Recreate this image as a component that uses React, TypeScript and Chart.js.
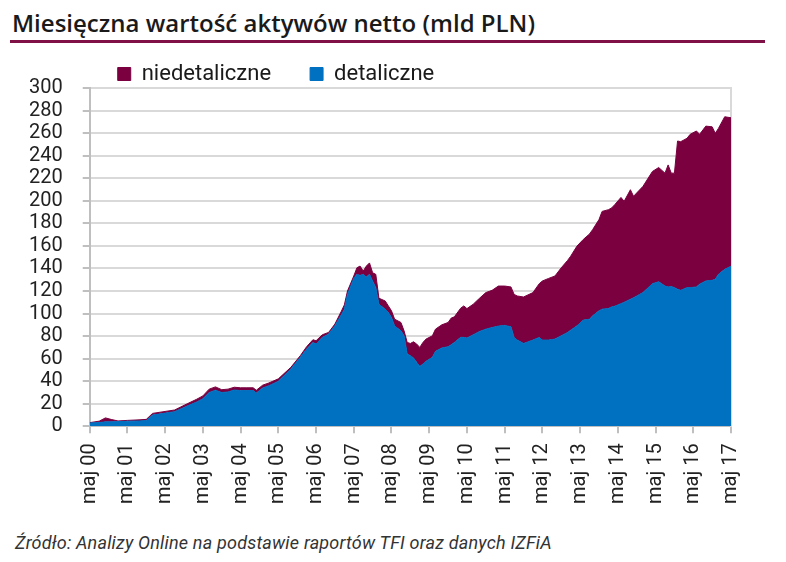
import React, { useEffect, useRef } from "react";
import Chart from "chart.js/auto";

// months counted from May 2000 (0 = maj 00, 204 = maj 17)
const months = [
  0, 3, 5, 7, 9, 12, 16, 18, 20, 23,
  27, 31, 34, 36, 38, 40, 42, 44, 46, 48,
  50, 52, 53, 55, 57, 60, 64, 67, 69, 71,
  72, 74, 76, 78, 80, 81, 82, 84, 85, 86,
  87, 88, 89, 90, 91, 92, 94, 95, 96, 97,
  99, 100, 101, 102, 103, 104, 105, 106, 107, 109,
  110, 112, 114, 115, 116, 118, 119, 120, 122, 124,
  126, 128, 130, 132, 134, 135, 136, 138, 141, 143,
  144, 146, 148, 150, 152, 153, 155, 157, 159, 160,
  162, 163, 165, 166, 167, 169, 170, 172, 173, 176,
  179, 181, 183, 184, 185, 186, 187, 188, 190, 191,
  193, 194, 196, 198, 199, 200, 202, 204,
];

// mld PLN
const detaliczne = [
  3.0, 3.4, 4.0, 4.0, 4.2, 4.5, 4.8, 5.2, 10.0, 11.3,
  13.0, 18.0, 21.5, 24.5, 30.0, 32.0, 30.0, 30.5, 32.2, 31.7,
  31.7, 31.7, 29.5, 34.0, 36.0, 40.0, 50.9, 61.2, 68.5, 74.4,
  73.0, 78.9, 81.8, 89.2, 98.8, 103.9, 117.0, 131.2, 134.8, 133.8,
  134.8, 132.4, 134.8, 128.8, 123.0, 108.2, 103.9, 100.9, 96.5, 89.0,
  84.7, 80.3, 64.1, 62.7, 60.6, 56.8, 53.0, 55.3, 57.7, 61.2,
  66.5, 69.5, 70.6, 72.4, 74.4, 78.9, 78.9, 78.3, 81.2, 84.1,
  86.2, 87.6, 88.9, 89.5, 88.3, 78.8, 76.5, 73.5, 76.5, 78.8,
  76.5, 76.5, 77.4, 80.3, 83.2, 85.3, 89.1, 94.2, 95.0, 98.0,
  102.4, 103.9, 104.5, 105.9, 106.5, 108.8, 110.0, 112.7, 114.0, 118.6,
  126.5, 128.2, 124.4, 123.6, 124.0, 123.0, 121.5, 120.6, 123.0, 123.0,
  123.6, 126.0, 128.9, 129.5, 130.4, 134.8, 139.2, 142.0,
];

const niedetaliczne = [
  0.3, 1.2, 3.5, 2.0, 0.6, 0.8, 1.0, 1.0, 1.5, 1.5,
  1.5, 2.0, 2.5, 2.5, 3.0, 3.0, 2.5, 2.5, 2.5, 2.5,
  2.5, 2.5, 2.5, 2.5, 2.5, 2.1, 1.5, 1.5, 2.1, 2.4,
  2.9, 2.3, 1.5, 1.5, 3.0, 3.8, 3.0, 2.1, 5.8, 8.3,
  2.9, 9.7, 10.1, 7.4, 11.8, 5.4, 7.3, 5.9, 5.9, 6.0,
  7.4, 4.4, 10.3, 10.8, 14.4, 16.2, 17.0, 19.1, 19.7, 19.1,
  19.7, 20.5, 21.5, 23.6, 22.7, 25.9, 27.9, 26.1, 27.1, 29.5,
  32.4, 33.0, 35.5, 34.9, 35.3, 38.2, 39.1, 41.2, 42.1, 47.7,
  52.4, 54.7, 55.9, 60.3, 63.9, 65.6, 70.7, 71.5, 75.6, 76.5,
  80.9, 86.7, 87.6, 87.7, 90.0, 94.2, 89.5, 97.1, 90.0, 94.2,
  99.5, 101.3, 100.1, 108.2, 100.5, 101.5, 131.5, 131.8, 132.4, 135.9,
  138.3, 132.9, 137.3, 136.1, 129.4, 129.4, 135.3, 131.6,
];

const tickLabels = [
  "maj 00", "maj 01", "maj 02", "maj 03", "maj 04", "maj 05",
  "maj 06", "maj 07", "maj 08", "maj 09", "maj 10", "maj 11",
  "maj 12", "maj 13", "maj 14", "maj 15", "maj 16", "maj 17",
];

const BLUE = "#0070C0";
const MAROON = "#7A0040";

// pull the legend back a little and down, closer to the plot
const legendNudge = {
  id: "legendNudge",
  afterLayout(chart: any) {
    const l = chart.legend;
    if (l) {
      l.left -= 11;
      l.top += 7;
    }
  },
};

const AktywaChart = () => {
  const canvasRef = useRef<HTMLCanvasElement | null>(null);
  const chartRef = useRef<Chart | null>(null);

  useEffect(() => {
    const ctx = canvasRef.current?.getContext("2d");
    if (!ctx) return;
    if (chartRef.current) chartRef.current.destroy();

    Chart.defaults.font.family = "Roboto, 'Noto Sans', sans-serif";

    chartRef.current = new Chart(ctx, {
      type: "line",
      data: {
        datasets: [
          {
            label: "detaliczne",
            data: months.map((m, i) => ({ x: m, y: detaliczne[i] })),
            backgroundColor: BLUE,
            borderColor: BLUE,
            borderWidth: 1,
            pointRadius: 0,
            fill: "origin",
            tension: 0,
          },
          {
            label: "niedetaliczne",
            data: months.map((m, i) => ({ x: m, y: niedetaliczne[i] })),
            backgroundColor: MAROON,
            borderColor: MAROON,
            borderWidth: 1,
            pointRadius: 0,
            fill: "-1",
            tension: 0,
          },
        ],
      },
      options: {
        animation: false,
        responsive: true,
        maintainAspectRatio: false,
        layout: { padding: { left: 9, right: 55, top: 0, bottom: 6 } },
        plugins: {
          legend: {
            position: "top",
            align: "start",
            fullSize: false,
            reverse: true,
            labels: {
              boxWidth: 13,
              boxHeight: 13,
              padding: 39,
              color: "#1a1a1a",
              font: { size: 22 },
            },
          },
          tooltip: { enabled: false },
        },
        scales: {
          x: {
            type: "linear",
            min: 0,
            max: 204,
            ticks: {
              stepSize: 12,
              autoSkip: false,
              maxRotation: 90,
              minRotation: 90,
              padding: 10,
              color: "#222",
              font: { size: 20 },
              callback: (v: any) => tickLabels[Math.round(Number(v) / 12)] ?? "",
            },
            grid: {
              drawOnChartArea: false,
              tickLength: 7,
              color: "#bfbfbf",
              lineWidth: 2,
            },
            border: { color: "#bfbfbf", width: 2 },
          },
          y: {
            stacked: true,
            min: 0,
            max: 300,
            ticks: {
              stepSize: 20,
              autoSkip: false,
              padding: 20,
              color: "#222",
              font: { size: 20 },
            },
            grid: {
              color: "#d9d9d9",
              lineWidth: 2,
              tickLength: 7,
              tickColor: "#bfbfbf",
            },
            border: { color: "#bfbfbf", width: 2 },
          },
          y2: {
            position: "right",
            min: 0,
            max: 300,
            ticks: { display: false },
            grid: { drawOnChartArea: false, drawTicks: false },
            border: { color: "#d9d9d9", width: 2 },
          },
        },
      },
      plugins: [legendNudge],
    });

    return () => {
      if (chartRef.current) {
        chartRef.current.destroy();
        chartRef.current = null;
      }
    };
  }, []);

  return (
    <div style={{ position: "absolute", left: 0, top: 17, width: 786, height: 503 }}>
      <canvas ref={canvasRef} />
    </div>
  );
};

export default function App() {
  return (
    <div
      style={{
        position: "fixed",
        left: 0,
        top: 0,
        width: 786,
        height: 562,
        background: "#fff",
        fontFamily: "Roboto, sans-serif",
      }}
    >
      <div
        style={{
          position: "absolute",
          left: 12,
          top: 11,
          fontFamily: "'Open Sans', Roboto, sans-serif",
          fontSize: 24,
          lineHeight: 1,
          fontWeight: 600,
          color: "#1a1a1a",
          whiteSpace: "nowrap",
        }}
      >
        Miesięczna wartość aktywów netto (mld PLN)
      </div>
      <div
        style={{
          position: "absolute",
          left: 10,
          top: 40,
          width: 755,
          height: 3,
          background: "#7F1146",
        }}
      />
      <AktywaChart />
      <div
        style={{
          position: "absolute",
          left: 15,
          top: 532,
          fontSize: 18,
          letterSpacing: 0.2,
          fontStyle: "italic",
          color: "#333",
          whiteSpace: "nowrap",
        }}
      >
        Źródło: Analizy Online na podstawie raportów TFI oraz danych IZFiA
      </div>
    </div>
  );
}
